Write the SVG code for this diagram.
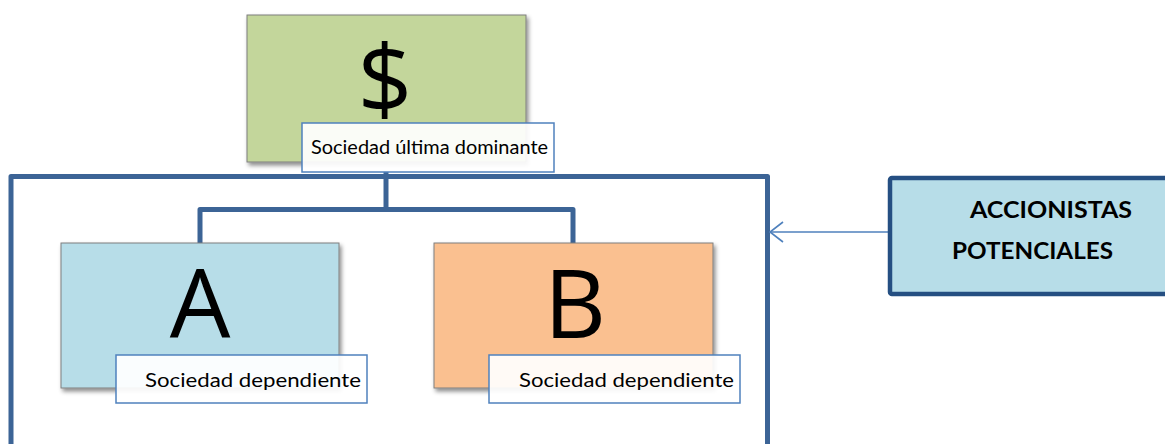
<svg xmlns="http://www.w3.org/2000/svg" width="1165" height="444" viewBox="0 0 1165 444">
  <defs>
    <filter id="shadow" x="-10%" y="-10%" width="130%" height="140%">
      <feDropShadow dx="2" dy="3" stdDeviation="2" flood-color="#000" flood-opacity="0.45"/>
    </filter>
    <marker id="openArrow" viewBox="0 0 16 24" refX="15" refY="12" markerWidth="16" markerHeight="24" markerUnits="userSpaceOnUse" orient="auto">
      <path d="M2,2 L15,12 L2,22" fill="none" stroke="#4f81bd" stroke-width="1.6"/>
    </marker>
  </defs>
  <style>
    .node { stroke: #7f7f7f; stroke-width: 1; filter: url(#shadow); }
    .tag { fill: #ffffff; fill-opacity: 0.92; stroke: #4f81bd; stroke-width: 1.5; }
    .big { font-family: "Open Sans", "Liberation Sans", sans-serif; font-size: 96px; fill: #000; text-anchor: middle; }
    .lbl { font-family: Lato, "Open Sans", "Liberation Sans", sans-serif; font-size: 19.5px; fill: #000; }
    .bold { font-family: Lato, "Open Sans", "Liberation Sans", sans-serif; font-weight: bold; font-size: 23px; fill: #000; }
    .wire { fill: none; stroke: #3c6496; stroke-width: 5; stroke-linejoin: round; }
  </style>

  <rect width="1165" height="444" fill="#ffffff"/>

  <!-- group frame and tree connectors -->
  <g id="connectors">
    <path class="wire" d="M11,446 V176.5 H767.5 V446"/>
    <path class="wire" d="M386,172 V209.5"/>
    <path class="wire" d="M200,243 V209.5 H573 V243"/>
    <line x1="888" y1="232" x2="770" y2="232" stroke="#4f81bd" stroke-width="1.6" marker-end="url(#openArrow)"/>
  </g>

  <!-- ultimate parent company -->
  <g id="node-parent">
    <rect class="node" x="247" y="15" width="279" height="147" fill="#c3d69b"/>
    <text class="big" x="385" y="113">$</text>
    <rect class="tag" x="302" y="123" width="252" height="49"/>
    <text class="lbl" x="311" y="154" textLength="237" lengthAdjust="spacingAndGlyphs">Sociedad última dominante</text>
  </g>

  <!-- subsidiary A -->
  <g id="node-a">
    <rect class="node" x="61" y="243" width="278" height="145" fill="#b7dde8"/>
    <text class="big" x="200" y="338">A</text>
    <rect class="tag" x="116" y="355" width="251" height="48"/>
    <text class="lbl" x="145" y="387" textLength="216" lengthAdjust="spacingAndGlyphs">Sociedad dependiente</text>
  </g>

  <!-- subsidiary B -->
  <g id="node-b">
    <rect class="node" x="434" y="243" width="279" height="145" fill="#fac090"/>
    <text class="big" x="575" y="338">B</text>
    <rect class="tag" x="489" y="355" width="251" height="48"/>
    <text class="lbl" x="519" y="387" textLength="215" lengthAdjust="spacingAndGlyphs">Sociedad dependiente</text>
  </g>

  <!-- potential shareholders -->
  <g id="node-shareholders">
    <rect x="890" y="178" width="290" height="116" rx="2" fill="#b7dde8" stroke="#254f82" stroke-width="4.5"/>
    <text class="bold" x="970" y="218" textLength="162" lengthAdjust="spacingAndGlyphs">ACCIONISTAS</text>
    <text class="bold" x="952" y="259" textLength="161" lengthAdjust="spacingAndGlyphs">POTENCIALES</text>
  </g>
</svg>
